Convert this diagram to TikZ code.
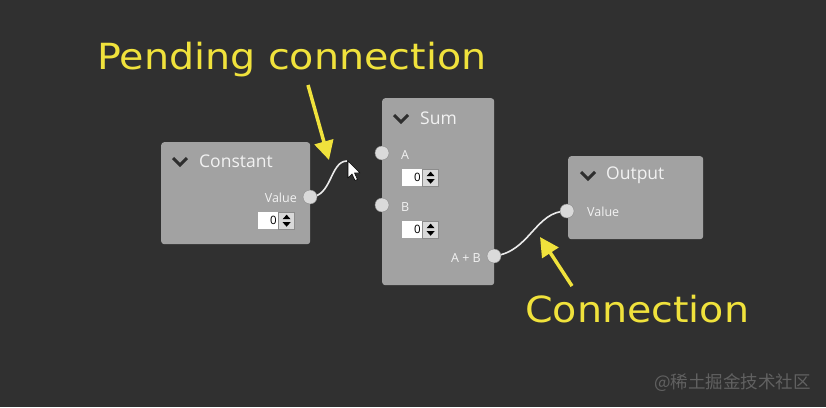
\documentclass[tikz,border=0pt]{standalone}
\usepackage{fontspec}
\setmainfont{DejaVu Sans}
\newfontfamily\hintfont[FakeStretch=1.1]{DejaVu Sans}
\newfontfamily\uifont{Open Sans}
\newfontfamily\cjkfont{Noto Sans CJK SC}
\usetikzlibrary{arrows.meta}

\definecolor{canvas}{HTML}{303030}
\definecolor{panel}{HTML}{A2A2A2}
\definecolor{portfill}{HTML}{DADADA}
\definecolor{hint}{HTML}{F0E23C}
\definecolor{chev}{HTML}{2E2E2E}

\tikzset{
  block/.style={fill=panel, rounded corners=3pt, inner sep=0pt, anchor=north west},
  title/.style={text=white!95!black, inner sep=0pt, font=\uifont\fontsize{17.5}{20}\selectfont},
  chevron/.style={draw=chev, line width=3pt},
  port/.style={circle, fill=portfill, draw=panel!85!black, line width=0.4pt, minimum size=14pt, inner sep=0pt},
  plabel/.style={text=white!95!black, inner sep=0pt, font=\uifont\fontsize{12.5}{14}\selectfont},
  numbox/.style={fill=white, inner sep=0pt, minimum width=20pt, minimum height=17pt, anchor=north west,
    align=right, text width=17pt, font=\uifont\fontsize{11.5}{13}\selectfont},
  arrowbox/.style={fill=black!15, draw=black!45, line width=0.4pt, inner sep=0pt, minimum width=16pt, minimum height=17pt, anchor=north west},
  wire/.style={draw=white!92!black, line width=1.6pt},
  hintlabel/.style={text=hint, inner sep=0pt, font=\hintfont\fontsize{36}{40}\selectfont},
  hintarrow/.style={draw=hint, line width=3.5pt, -{Triangle[length=19pt,width=19pt]}}
}

\begin{document}
\begin{tikzpicture}[x=1pt,y=-1pt]
      \fill[canvas] (0,0) rectangle (826,407);
      \useasboundingbox (0,0) rectangle (826,407);

      \node[block, minimum width=149pt, minimum height=102pt] (constant) at (161,142) {};
      \node[block, minimum width=112pt, minimum height=187pt] (sum) at (382,98) {};
      \node[block, minimum width=135pt, minimum height=83pt] (output) at (568,156) {};

      \draw[chevron] (173,158) -- (180,165) -- (187,158);
      \draw[chevron] (394,115) -- (401,122) -- (408,115);
      \draw[chevron] (581,172) -- (588,179) -- (595,172);

      \node[title, anchor=west] (constanttitle) at (199,161) {Constant};
      \node[title, anchor=west] (sumtitle) at (420,118) {Sum};
      \node[title, anchor=west] (outputtitle) at (606,175) {Output};

      \node[plabel, anchor=east] (valuelabel) at (297,198) {Value};
      \node[plabel, anchor=west] (alabel) at (401,155) {A};
      \node[plabel, anchor=west] (blabel) at (401,207) {B};
      \node[plabel, anchor=east] (sumlabel) at (481,258) {A + B};
      \node[plabel, anchor=west] (outlabel) at (587,212) {Value};

      \foreach \n/\sx/\sy in {c/258/212, a/402/169, b/402/221} {
        \node[numbox] (num-\n) at (\sx,\sy) {0};
        \node[arrowbox] (arr-\n) at (num-\n.north east) {};
        \fill ([xshift=-4pt,yshift=1.5pt]arr-\n.center) -- ++(8pt,0pt) -- ++(-4pt,4.5pt) -- cycle;
        \fill ([xshift=-4pt,yshift=-1.5pt]arr-\n.center) -- ++(8pt,0pt) -- ++(-4pt,-4.5pt) -- cycle;
      }

      \coordinate (cursor) at (347,161);
      \draw[wire] (310,197) .. controls (332,197) and (330,161) .. (cursor);
      \draw[wire] (494,256) .. controls (530,252) and (535,211) .. (567,211);

      \node[port] (valueport) at (310,197) {};
      \node[port] (inA) at (382,153) {};
      \node[port] (inB) at (382,205) {};
      \node[port] (sumport) at (494,256) {};
      \node[port] (outport) at (567,211) {};

      \draw[fill=white, draw=black, line width=0.6pt, line join=round, shift={(348,161)}]
        (0,0) -- (0,17) -- (4,13) -- (7,19.5) -- (9.5,18.5) -- (6.5,12) -- (12,12) -- cycle;

      \node[hintlabel, anchor=base west] (pending) at (97,69) {Pending connection};
      \node[hintlabel, anchor=base west] (connection) at (525,322) {Connection};
      \coordinate (pendingtail) at (308,85);
      \coordinate (pendingtip) at (329,160);
      \coordinate (connectiontail) at (572,286);
      \coordinate (connectiontip) at (540,237);
      \draw[hintarrow] (pendingtail) -- (pendingtip);
      \draw[hintarrow] (connectiontail) -- (connectiontip);

      \node[anchor=east, inner sep=0pt, text=white!38!black, font=\cjkfont\fontsize{17.5}{19}\selectfont] (mark) at (811,383) {@稀土掘金技术社区};
    \end{tikzpicture}
\end{document}
